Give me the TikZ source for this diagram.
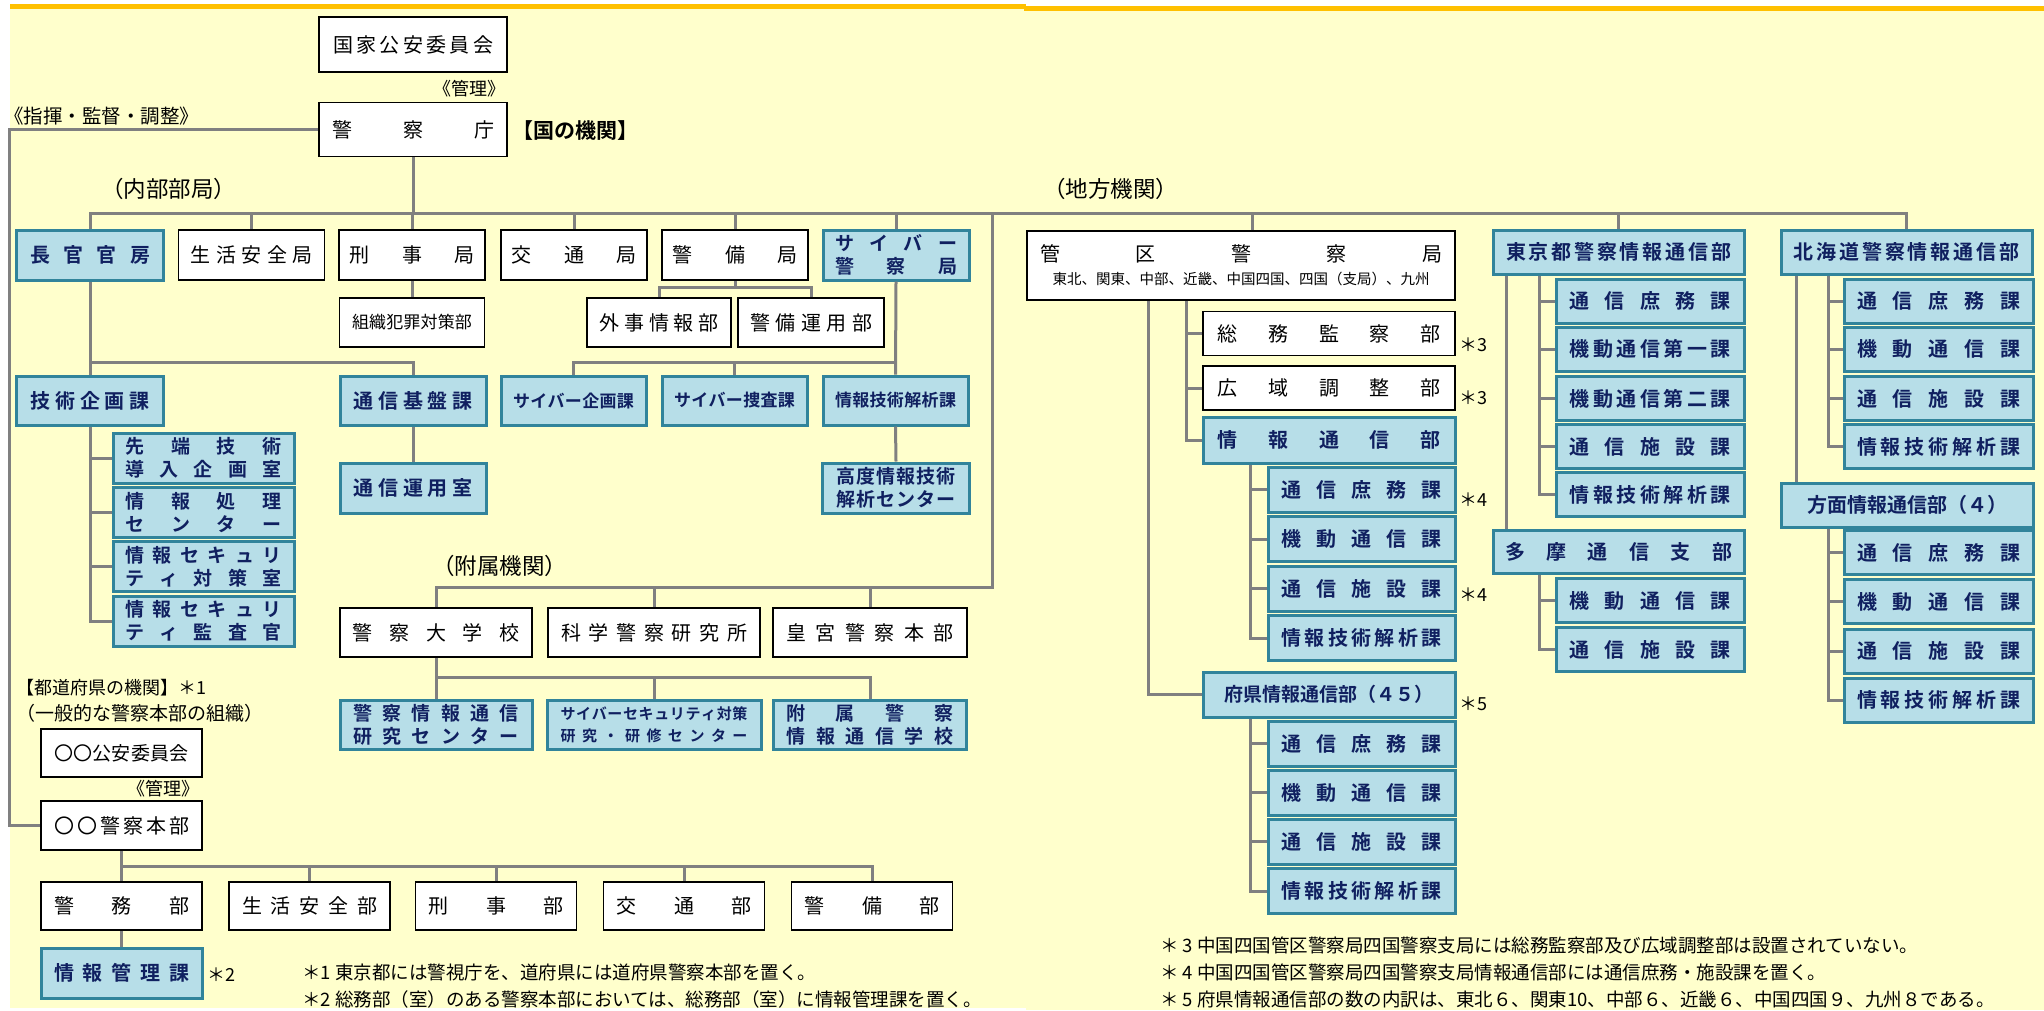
\documentclass[tikz,border=0pt]{standalone}
\usepackage{fontspec}
\setmainfont{Noto Sans CJK JP}[BoldFont={* Bold}]
\usepackage{tikz}
\usetikzlibrary{calc,positioning}
\definecolor{paperyellow}{RGB}{255,255,204}
\definecolor{bandorange}{RGB}{255,192,0}
\definecolor{boxblue}{RGB}{183,222,232}
\definecolor{boxedge}{RGB}{49,132,155}
\definecolor{boxink}{RGB}{16,32,96}
\definecolor{linegray}{RGB}{128,128,128}
\newcommand{\fs}[1]{\fontsize{#1}{#1}\selectfont}
\makeatletter
\newcommand{\spr}[2]{\makebox[#1][s]{\spr@a#2\@nil}}
\def\spr@a#1#2\@nil{#1\ifx\relax#2\relax\else\hfil\spr@a#2\@nil\fi}
\makeatother
\tikzset{
  sz/.style 2 args={minimum width=#1pt,minimum height=#2pt},
  wbox/.style={draw=black,line width=1.6pt,fill=white,inner sep=0pt,
    font=\fs{20}},
  bbox/.style={draw=boxedge,line width=3pt,fill=boxblue,inner sep=0pt,
    text=boxink,font=\fs{20}\bfseries},
  two/.style={align=center,font=\fs{19}\bfseries},
  conn/.style={draw=linegray,line width=3pt},
  lab/.style={inner sep=0pt,font=\fs{18}},
  head/.style={inner sep=0pt,anchor=west,font=\fs{22.5}},
  ast/.style={inner sep=0pt,anchor=west,font=\fs{18}},
  note/.style={inner sep=0pt,anchor=west,font=\fs{18.5}}
}

\begin{document}
\begin{tikzpicture}[x=1pt,y=-1pt]
  \useasboundingbox (0,0) rectangle (2044,1010);
  \fill[white] (0,0) rectangle (2044,1010);
  \fill[paperyellow] (10,4) rectangle (1026,1008);
  \fill[paperyellow] (1026,6) rectangle (2044,1010);
  \fill[bandorange] (10,4) rectangle (1026,9);
  \fill[bandorange] (1024,6) rectangle (2044,11);

  % national agency
  \node[wbox,sz={188}{55}] (kokka) at (413,44.5) {\spr{160pt}{国家公安委員会}};
  \node[lab,anchor=east] (kanri1) at (506,89) {《管理》};
  \node[wbox,sz={188}{54}] (chou) at (413,129.5) {\spr{162pt}{警察庁}};
  \node[inner sep=0pt,anchor=west,font=\fs{21}\bfseries] (kuni) at (512,131) {【国の機関】};
  \node[lab,anchor=west,font=\fs{19.5}] (shiki) at (4,116) {《指揮・監督・調整》};
  \node[head] (naibu) at (101,189) {（内部部局）};
  \node[head] (chihou) at (1043,189) {（地方機関）};

  \node[bbox,sz={147}{50}] (chokan) at (90,255) {\spr{120pt}{長官官房}};
  \node[wbox,sz={146}{50}] (seian) at (251.5,255) {\spr{122pt}{生活安全局}};
  \node[wbox,sz={146}{50}] (keiji) at (412,255) {\spr{125pt}{刑事局}};
  \node[wbox,sz={146}{50}] (kotsu) at (574,255) {\spr{125pt}{交通局}};
  \node[wbox,sz={146}{50}] (keibi) at (735,255) {\spr{125pt}{警備局}};
  \node[bbox,sz={146}{50},two] (cyber) at (896,255)
    {\spr{122pt}{サイバー}\\[4pt]\spr{122pt}{警察局}};

  \node[wbox,sz={145}{49},font=\fs{17}] (soshiki) at (412,322.5) {\spr{120pt}{組織犯罪対策部}};
  \node[wbox,sz={144}{49}] (gaiji) at (659,322.5) {\spr{119pt}{外事情報部}};
  \node[wbox,sz={146}{49}] (keibiun) at (811,322.5) {\spr{122pt}{警備運用部}};

  \node[bbox,sz={147}{49}] (gijutsu) at (90,400.5) {\spr{119pt}{技術企画課}};
  \node[bbox,sz={146}{49}] (kiban) at (413,400.5) {\spr{119pt}{通信基盤課}};
  \node[bbox,sz={145}{49},font=\fs{17}\bfseries] (cyberkikaku) at (573.5,400.5) {\spr{121pt}{サイバー企画課}};
  \node[bbox,sz={145}{49},font=\fs{17}\bfseries] (cybersousa) at (734.5,400.5) {\spr{121pt}{サイバー捜査課}};
  \node[bbox,sz={145}{49},font=\fs{17}\bfseries] (jgk) at (895.5,400.5) {\spr{121pt}{情報技術解析課}};

  \node[bbox,sz={181}{50},two] (sentan) at (203.5,458) {\spr{156pt}{先端技術}\\[4pt]\spr{156pt}{導入企画室}};
  \node[bbox,sz={181}{50},two] (shori) at (203.5,512.5) {\spr{156pt}{情報処理}\\[4pt]\spr{156pt}{センター}};
  \node[bbox,sz={181}{50},two] (secta) at (203.5,566.5) {\spr{156pt}{情報セキュリ}\\[4pt]\spr{156pt}{ティ対策室}};
  \node[bbox,sz={181}{50},two] (sekan) at (203.5,621) {\spr{156pt}{情報セキュリ}\\[4pt]\spr{156pt}{ティ監査官}};
  \node[bbox,sz={146}{50}] (unyou) at (413,488) {\spr{119pt}{通信運用室}};
  \node[bbox,sz={147}{50},two] (koudo) at (896,488) {\spr{120pt}{高度情報技術}\\[4pt]\spr{120pt}{解析センター}};

  \node[head] (fuzoku) at (432,566) {（附属機関）};
  \node[wbox,sz={192}{49}] (daigaku) at (436,632.5) {\spr{167pt}{警察大学校}};
  \node[wbox,sz={212}{49}] (kaken) at (654,632.5) {\spr{186pt}{科学警察研究所}};
  \node[wbox,sz={194}{49}] (kougu) at (870,632.5) {\spr{167pt}{皇宮警察本部}};
  \node[bbox,sz={192}{49},two] (jcenter) at (436,724.5) {\spr{166pt}{警察情報通信}\\[4pt]\spr{166pt}{研究センター}};
  \node[bbox,sz={214}{49},two,font=\fs{15}\bfseries] (cscenter) at (654,724.5)
    {\spr{187pt}{サイバーセキュリティ対策}\\[7pt]\spr{187pt}{研究・研修センター}};
  \node[bbox,sz={193}{49},two] (gakkou) at (870,724.5) {\spr{167pt}{附属警察}\\[4pt]\spr{167pt}{情報通信学校}};

  % prefectural police
  \node[lab,anchor=west,font=\fs{18}] (todo) at (16,688) {【都道府県の機関】＊1};
  \node[lab,anchor=west,font=\fs{19}] (ippan) at (16,713) {（一般的な警察本部の組織）};
  \node[wbox,sz={161}{48},font=\fs{19}] (koan) at (121.5,753) {\spr{135pt}{〇〇公安委員会}};
  \node[lab,anchor=east] (kanri2) at (200,789) {《管理》};
  \node[wbox,sz={161}{49}] (honbu) at (121.5,825.5) {\spr{135pt}{〇〇警察本部}};
  \node[wbox,sz={161}{48}] (keimu) at (121.5,906) {\spr{135pt}{警務部}};
  \node[wbox,sz={161}{48}] (seianbu) at (309.5,906) {\spr{135pt}{生活安全部}};
  \node[wbox,sz={161}{48}] (keijibu) at (496,906) {\spr{135pt}{刑事部}};
  \node[wbox,sz={161}{48}] (kotsubu) at (684,906) {\spr{135pt}{交通部}};
  \node[wbox,sz={161}{48}] (keibibu) at (872,906) {\spr{135pt}{警備部}};
  \node[bbox,sz={161}{50}] (kanrika) at (121.5,973) {\spr{135pt}{情報管理課}};
  \node[ast] (a2) at (207,975) {＊2};
  \node[note] (n1) at (302,972) {＊1 東京都には警視庁を、道府県には道府県警察本部を置く。};
  \node[note] (n2) at (302,999) {＊2 総務部（室）のある警察本部においては、総務部（室）に情報管理課を置く。};

  % regional bureaus
  \node[wbox,sz={428}{69},align=center] (kanku) at (1241,265.5)
    {\spr{402pt}{管区警察局}\\[3pt]{\fs{14.5}東北、関東、中部、近畿、中国四国、四国（支局）、九州}};
  \node[wbox,sz={252}{44}] (soumu) at (1329,333.5) {\spr{223pt}{総務監察部}};
  \node[wbox,sz={252}{44}] (kouiki) at (1329,388) {\spr{223pt}{広域調整部}};
  \node[ast] (a3a) at (1459,345) {＊3};
  \node[ast] (a3b) at (1459,398) {＊3};
  \node[bbox,sz={252}{46}] (jtsushin) at (1329,440) {\spr{223pt}{情報通信部}};
  \node[bbox,sz={187}{45}] (j1) at (1361.5,489.5) {\spr{160pt}{通信庶務課}};
  \node[bbox,sz={187}{45}] (j2) at (1361.5,539) {\spr{160pt}{機動通信課}};
  \node[bbox,sz={187}{45}] (j3) at (1361.5,588.5) {\spr{160pt}{通信施設課}};
  \node[bbox,sz={187}{45}] (j4) at (1361.5,638) {\spr{160pt}{情報技術解析課}};
  \node[ast] (a4a) at (1459,500) {＊4};
  \node[ast] (a4b) at (1459,595) {＊4};
  \node[bbox,sz={252}{45},font=\fs{19}\bfseries] (fuken) at (1329,694.5) {府県情報通信部（４５）};
  \node[ast] (a5) at (1459,704) {＊5};
  \node[bbox,sz={187}{45}] (f1) at (1361.5,743.5) {\spr{160pt}{通信庶務課}};
  \node[bbox,sz={187}{45}] (f2) at (1361.5,792.5) {\spr{160pt}{機動通信課}};
  \node[bbox,sz={187}{45}] (f3) at (1361.5,841.5) {\spr{160pt}{通信施設課}};
  \node[bbox,sz={187}{45}] (f4) at (1361.5,891) {\spr{160pt}{情報技術解析課}};

  \node[bbox,sz={251}{44}] (tokyo) at (1618.5,252) {\spr{225pt}{東京都警察情報通信部}};
  \node[bbox,sz={188}{44}] (t1) at (1650,301) {\spr{161pt}{通信庶務課}};
  \node[bbox,sz={188}{44}] (t2) at (1650,349) {\spr{161pt}{機動通信第一課}};
  \node[bbox,sz={188}{44}] (t3) at (1650,398.5) {\spr{161pt}{機動通信第二課}};
  \node[bbox,sz={188}{44}] (t4) at (1650,446.5) {\spr{161pt}{通信施設課}};
  \node[bbox,sz={188}{44}] (t5) at (1650,494.5) {\spr{161pt}{情報技術解析課}};
  \node[bbox,sz={251}{43}] (tama) at (1618.5,551.5) {\spr{227pt}{多摩通信支部}};
  \node[bbox,sz={188}{44}] (m1) at (1650,600.5) {\spr{161pt}{機動通信課}};
  \node[bbox,sz={188}{44}] (m2) at (1650,649.5) {\spr{161pt}{通信施設課}};

  \node[bbox,sz={251}{44}] (hokkaido) at (1906.5,252) {\spr{226pt}{北海道警察情報通信部}};
  \node[bbox,sz={189}{44}] (h1) at (1938.5,301) {\spr{163pt}{通信庶務課}};
  \node[bbox,sz={189}{44}] (h2) at (1938.5,349) {\spr{163pt}{機動通信課}};
  \node[bbox,sz={189}{44}] (h3) at (1938.5,398.5) {\spr{163pt}{通信施設課}};
  \node[bbox,sz={189}{44}] (h4) at (1938.5,446.5) {\spr{163pt}{情報技術解析課}};
  \node[bbox,sz={252}{44}] (houmen) at (1907,505) {方面情報通信部（４）};
  \node[bbox,sz={189}{44}] (p1) at (1938.5,552.5) {\spr{163pt}{通信庶務課}};
  \node[bbox,sz={189}{44}] (p2) at (1938.5,601.5) {\spr{163pt}{機動通信課}};
  \node[bbox,sz={189}{44}] (p3) at (1938.5,651) {\spr{163pt}{通信施設課}};
  \node[bbox,sz={189}{44}] (p4) at (1938.5,700) {\spr{163pt}{情報技術解析課}};

  \node[note] (n3) at (1160,945) {＊ 3 中国四国管区警察局四国警察支局には総務監察部及び広域調整部は設置されていない。};
  \node[note] (n4) at (1160,972) {＊ 4 中国四国管区警察局四国警察支局情報通信部には通信庶務・施設課を置く。};
  \node[note] (n5) at (1160,999) {＊ 5 府県情報通信部の数の内訳は、東北６、関東10、中部６、近畿６、中国四国９、九州８である。};

  % connectors
  \coordinate (bus1) at (0,213);
  \coordinate (lft) at (9,0);
  \coordinate (fzk) at (992,587);
  \draw[conn] (chou.south) -- (chou.south |- bus1);
  \draw[conn] (chokan.north) |- (hokkaido.north |- bus1) -- (hokkaido.north);
  \foreach \n in {seian,keiji,kotsu,keibi,cyber,tokyo}
    \draw[conn] (\n.north) -- (\n.north |- bus1);
  \draw[conn] ([xshift=11pt]kanku.north) -- ([xshift=11pt]kanku.north |- bus1);
  \draw[conn] (fzk |- bus1) -- (fzk) -| (daigaku.north);
  \draw[conn] (kaken.north) -- (kaken.north |- fzk);
  \draw[conn] (kougu.north) -- (kougu.north |- fzk);

  \draw[conn] (keiji.south) -- (soshiki.north);
  \draw[conn] (keibi.south) -- ++(0,7) coordinate (kbj);
  \draw[conn] (gaiji.north) |- (kbj) -| (keibiun.north);

  \draw[conn] (chokan.south) -- (gijutsu.north);
  \path (chokan.south) ++(0,81) coordinate (ckj);
  \draw[conn] (ckj) -| (kiban.north);
  \draw[conn] (cyber.south) -- (jgk.north);
  \path (cyber.south) ++(0,81) coordinate (cyj);
  \draw[conn] (cyj) -| (cyberkikaku.north);
  \draw[conn] (cybersousa.north) -- (cybersousa.north |- cyj);
  \draw[conn] (kiban.south) -- (unyou.north);
  \draw[conn] (jgk.south) -- (koudo.north);
  \draw[conn] (gijutsu.south) |- (sekan.west);
  \foreach \n in {sentan,shori,secta}
    \draw[conn] (\n.west) -- (\n.west -| gijutsu.south);

  \draw[conn] (daigaku.south) -- (jcenter.north);
  \path (daigaku.south) ++(0,20) coordinate (dj);
  \draw[conn] (dj) -| (gakkou.north);
  \draw[conn] (cscenter.north) -- (cscenter.north |- dj);

  \draw[conn] (chou.west) -- (chou.west -| lft) |- (honbu.west);
  \draw[conn] (honbu.south) -- (keimu.north);
  \path (honbu.south) ++(0,16) coordinate (hj);
  \draw[conn] (hj) -| (keibibu.north);
  \foreach \n in {seianbu,keijibu,kotsubu}
    \draw[conn] (\n.north) -- (\n.north |- hj);
  \draw[conn] (keimu.south) -- (kanrika.north);

  \coordinate (kx) at ([xshift=-55pt]kanku.south);
  \draw[conn] ([xshift=-93pt]kanku.south) |- (fuken.west);
  \draw[conn] (kx) |- (jtsushin.west);
  \foreach \n in {soumu,kouiki}
    \draw[conn] (\n.west) -- (\n.west -| kx);
  \coordinate (jx) at ([xshift=49pt]jtsushin.south west);
  \draw[conn] (jx) |- (j4.west);
  \foreach \n in {j1,j2,j3}
    \draw[conn] (\n.west) -- (\n.west -| jx);
  \coordinate (fx) at ([xshift=49pt]fuken.south west);
  \draw[conn] (fx) |- (f4.west);
  \foreach \n in {f1,f2,f3}
    \draw[conn] (\n.west) -- (\n.west -| fx);

  \coordinate (tx) at ([xshift=48pt]tokyo.south west);
  \draw[conn] (tx) |- (t5.west);
  \foreach \n in {t1,t2,t3,t4}
    \draw[conn] (\n.west) -- (\n.west -| tx);
  \draw[conn] ([xshift=15pt]tokyo.south west) -- ([xshift=15pt]tama.north west);
  \coordinate (mx) at ([xshift=48pt]tama.south west);
  \draw[conn] (mx) |- (m2.west);
  \draw[conn] (m1.west) -- (m1.west -| mx);

  \coordinate (hx) at ([xshift=49pt]hokkaido.south west);
  \draw[conn] (hx) |- (h4.west);
  \foreach \n in {h1,h2,h3}
    \draw[conn] (\n.west) -- (\n.west -| hx);
  \draw[conn] ([xshift=17pt]hokkaido.south west) -- ([xshift=17pt]houmen.north west);
  \coordinate (px) at ([xshift=49pt]houmen.south west);
  \draw[conn] (px) |- (p4.west);
  \foreach \n in {p1,p2,p3}
    \draw[conn] (\n.west) -- (\n.west -| px);
\end{tikzpicture}
\end{document}
